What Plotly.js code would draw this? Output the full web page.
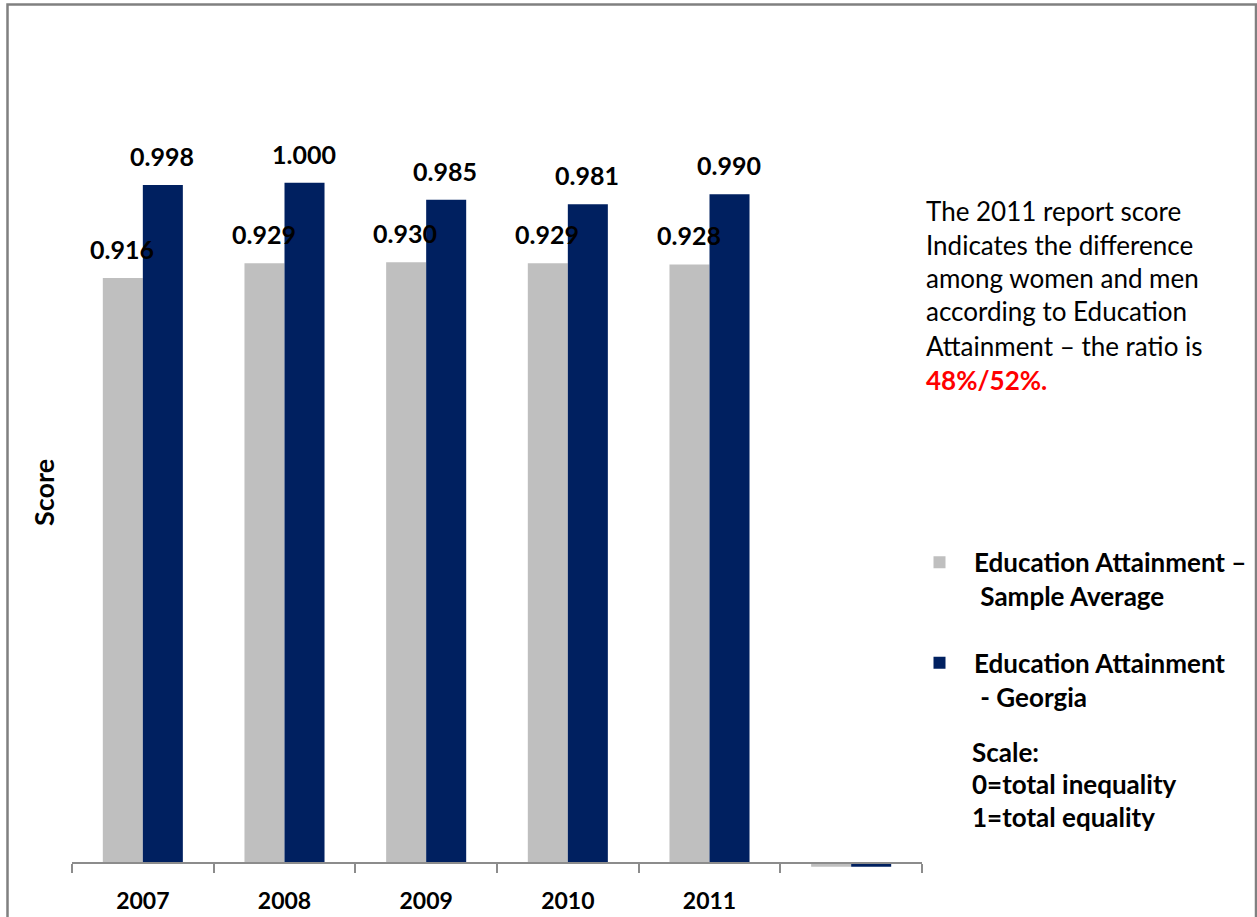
<!DOCTYPE html>
<html>
<head>
<meta charset="utf-8">
<script src="https://cdn.plot.ly/plotly-3.0.1.min.js"></script>
<style>html,body{margin:0;padding:0;background:#fff;}#chart{width:1257px;height:917px;}</style>
</head>
<body>
<div id="chart"></div>
<script>
// ---- data ----
const years = ['2007', '2008', '2009', '2010', '2011', '\u00a0'];
const sampleAverage = [0.916, 0.929, 0.930, 0.929, 0.928, 0.397];
const georgia = [0.998, 1.000, 0.985, 0.981, 0.990, 0.397];
const seriesNames = ['Education Attainment –<br>\u00a0Sample Average', 'Education Attainment<br>\u00a0- Georgia'];
const noteLines = ['The 2011 report score', 'Indicates the difference', 'among women and men', 'according to Education', 'Attainment – the ratio is'];
const noteHighlight = '48%/52%.';
const scaleLines = ['Scale:', '0=total inequality', '1=total equality'];
const yTitle = 'Score';

// ---- layout helpers ----
const W = 1257, H = 917;
const PL = 72, PR = 922, PT = 117;
const yMin = 0.396, yMax = 1.058, axisBase = 0.4;
const PPU = 1135;
const PH = (yMax - yMin) * PPU;
const PB = PT + PH;
const PW = PR - PL;
const fx = px => (px - PL) / PW;
const fy = py => (PB - py) / PH;

const font = 'Lato, "Open Sans", sans-serif';
const grey = '#BFBFBF', navy = '#002060';

const traces = [
  {type: 'bar', name: seriesNames[0], x: years, y: sampleAverage.map(v => v - axisBase), base: axisBase,
   marker: {color: grey}, legendgroup: 'a', hoverinfo: 'skip'},
  {type: 'bar', name: seriesNames[1], x: years, y: georgia.map(v => v - axisBase), base: axisBase,
   marker: {color: navy}, legendgroup: 'b', hoverinfo: 'skip'}
];

const annotations = [];
const labelFont = {family: font, size: 25, color: '#000', weight: 'bold'};
years.forEach((yr, i) => {
  if (sampleAverage[i] > axisBase) {
    annotations.push({x: i, y: sampleAverage[i], xref: 'x', yref: 'y', text: '<b>' + sampleAverage[i].toFixed(3) + '</b>',
      showarrow: false, xanchor: 'center', yanchor: 'bottom', xshift: -21, yshift: 12, font: labelFont});
  }
  if (georgia[i] > axisBase) {
    annotations.push({x: i, y: georgia[i], xref: 'x', yref: 'y', text: '<b>' + georgia[i].toFixed(3) + '</b>',
      showarrow: false, xanchor: 'center', yanchor: 'bottom', xshift: 19, yshift: 12, font: labelFont});
  }
});
const noteY = [211, 245, 278, 311, 346];
noteLines.forEach((t, i) => {
  annotations.push({xref: 'paper', yref: 'paper', x: fx(924), y: fy(noteY[i]), text: t, showarrow: false,
    xanchor: 'left', yanchor: 'middle', font: {family: font, size: 26, color: '#000'}});
});
annotations.push({xref: 'paper', yref: 'paper', x: fx(924), y: fy(380), text: '<b>' + noteHighlight + '</b>', showarrow: false,
  xanchor: 'left', yanchor: 'middle', font: {family: font, size: 26, color: '#FF0000'}});
const scaleY = [752, 784, 817];
scaleLines.forEach((t, i) => {
  annotations.push({xref: 'paper', yref: 'paper', x: fx(970), y: fy(scaleY[i]), text: '<b>' + t + '</b>', showarrow: false,
    xanchor: 'left', yanchor: 'middle', font: {family: font, size: 26, color: '#000'}});
});

const layout = {
  width: W, height: H,
  margin: {l: PL, r: W - PR, t: PT, b: H - PB, pad: 0, autoexpand: false},
  paper_bgcolor: '#fff', plot_bgcolor: '#fff',
  barmode: 'group', bargap: 0.435, bargroupgap: 0,
  showlegend: true,
  legend: {x: fx(905), y: fy(539), xanchor: 'left', yanchor: 'top', traceorder: 'grouped', tracegroupgap: 30,
    itemwidth: 59, valign: 'top', font: {family: font, size: 26, color: '#000', weight: 'bold'},
    bgcolor: 'rgba(0,0,0,0)', itemclick: false, itemdoubleclick: false},
  xaxis: {type: 'category', categoryorder: 'array', categoryarray: years, range: [-0.5, years.length - 0.5],
    autorange: false, anchor: 'free', position: (axisBase - yMin) / (yMax - yMin),
    showline: true, linecolor: '#8c8c8c', linewidth: 2, showgrid: false, zeroline: false,
    ticks: 'outside', tickson: 'boundaries', ticklen: 9, tickwidth: 2, tickcolor: '#8c8c8c',
    ticklabelstandoff: 17, automargin: false, tickangle: 0,
    tickfont: {family: font, size: 23, color: '#000', weight: 'bold'}, fixedrange: true},
  yaxis: {range: [yMin, yMax], autorange: false, showticklabels: false, showline: false, showgrid: false, zeroline: false,
    ticks: '', automargin: false, fixedrange: true,
    title: {text: '<b>' + yTitle + '</b>', standoff: 8, font: {family: font, size: 27, color: '#000'}}},
  annotations: annotations,
  shapes: [{type: 'rect', xref: 'paper', yref: 'paper', x0: fx(7.5), x1: fx(1256), y0: fy(935), y1: fy(4.5),
    line: {color: '#808080', width: 2.5}, fillcolor: 'rgba(0,0,0,0)', layer: 'below'}]
};

Plotly.newPlot('chart', traces, layout, {displayModeBar: false, staticPlot: true});
</script>
</body>
</html>
